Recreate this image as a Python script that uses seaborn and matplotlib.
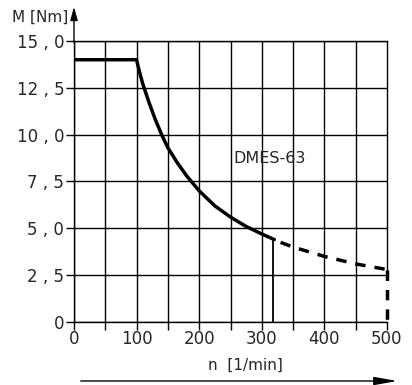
import seaborn as sns
import matplotlib.pyplot as plt
import matplotlib.patches as mpatches
import pandas as pd

# torque curve
n_flat = [0, 100]
m_flat = [14.0, 14.0]
n_solid = [100, 102, 105, 110, 115, 120, 130, 140, 150, 165, 180, 200, 225, 250, 275, 300, 320]
m_solid = [14.0, 13.7, 13.3, 12.7, 12.2, 11.7, 10.8, 10.0, 9.3, 8.5, 7.8, 7.0, 6.2, 5.6, 5.1, 4.7, 4.4]
n_dash = [330, 350, 375, 400, 425, 450, 475, 500]
m_dash = [4.25, 4.0, 3.75, 3.5, 3.3, 3.1, 2.95, 2.8]
n_drop = [500, 500]
m_drop = [2.8, 0.0]
n_edge = [500, 500]
m_edge = [15.0, 2.8]
n_mark = [318, 318]
m_mark = [4.4, 0.0]

x_ticks = [0, 100, 200, 300, 400, 500]
y_ticks = [0, 2.5, 5, 7.5, 10, 12.5, 15]
y_labels = ['0', '2 , 5', '5 , 0', '7 , 5', '10 , 0', '12 , 5', '15 , 0']

sns.set_style('white')
plt.rcParams['font.family'] = ['DejaVu Sans']

fig = plt.figure(figsize=(4.12, 3.85), dpi=100)
ax = fig.add_axes([74/412, 1 - 322/385, 313/412, 281/385])

solid = pd.DataFrame({'n': n_flat + n_solid, 'M': m_flat + m_solid})
sns.lineplot(data=solid, x='n', y='M', color='black', lw=2.5, sort=False,
             estimator=None, ax=ax)
dash = pd.DataFrame({'n': n_dash, 'M': m_dash})
sns.lineplot(data=dash, x='n', y='M', color='black', lw=2.5, estimator=None, ax=ax,
             linestyle=(0, (3, 2.6)))
drop = pd.DataFrame({'n': n_drop, 'M': m_drop})
sns.lineplot(data=drop, x='n', y='M', color='black', lw=2.5, ax=ax, sort=False,
             estimator=None, linestyle=(0, (3, 2.6)), clip_on=False)
ax.plot(n_edge, m_edge, color='black', lw=1.0, clip_on=False)
ax.plot(n_mark, m_mark, color='black', lw=1.3)

ax.set_xlim(0, 500)
ax.set_ylim(0, 15)
ax.set_xticks(x_ticks)
ax.set_xticks([50, 150, 250, 350, 450], minor=True)
ax.set_yticks(y_ticks)
ax.set_yticklabels(y_labels)
ax.grid(True, which='both', axis='x', color='black', lw=1.0)
ax.grid(True, which='major', axis='y', color='black', lw=1.0)
ax.get_xgridlines()[-1].set_visible(False)
ax.tick_params(axis='both', which='both', direction='out', length=6, width=1.0,
               color='black', labelsize=12, pad=1, bottom=True, left=True)
ax.tick_params(axis='x', pad=0)
for s in ax.spines.values():
    s.set_color('black')
    s.set_linewidth(1.0)
ax.spines['right'].set_visible(False)
ax.set_xlabel('')
ax.set_ylabel('')

ax.text(313, 8.75, 'DMES-63', fontsize=11.5, ha='center', va='center')

# axis arrows
fig.patches.append(mpatches.FancyArrowPatch(
    (74/412, 1 - 45/385), (74/412, 1 - 4/385), transform=fig.transFigure,
    arrowstyle='-|>,head_length=8,head_width=2.2', color='black', lw=1.0))
fig.patches.append(mpatches.FancyArrowPatch(
    (78/412, 1 - 381/385), (400/412, 1 - 381/385), transform=fig.transFigure,
    arrowstyle='-|>,head_length=14,head_width=2.5', color='black', lw=1.0))
fig.text(12/412, 1 - 17/385, 'M [Nm]', fontsize=11, va='center', ha='left')
fig.text(245/412, 1 - 365/385, 'n  [1/min]', fontsize=11, va='center', ha='center')

fig.savefig('out.png', dpi=100)
